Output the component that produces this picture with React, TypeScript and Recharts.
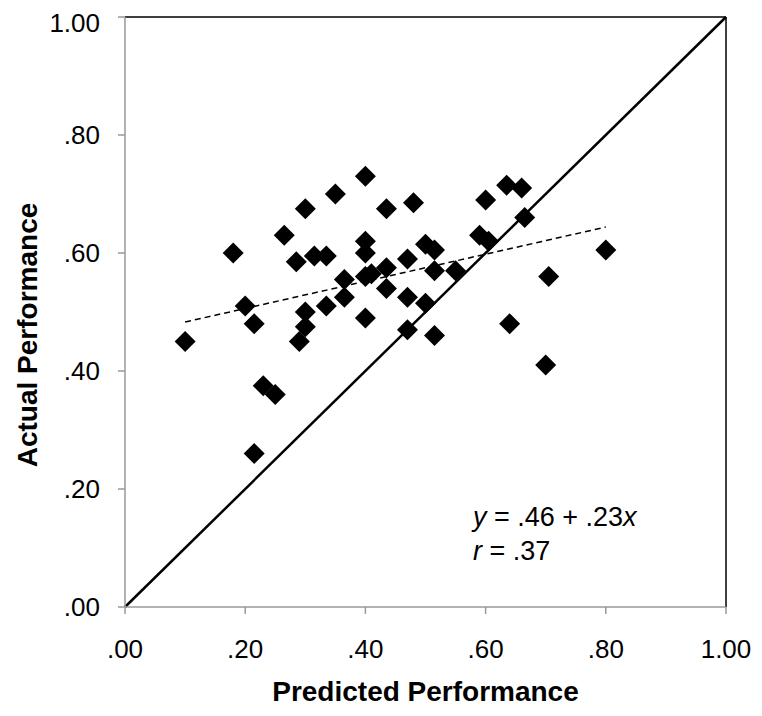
import { ScatterChart, Scatter, XAxis, YAxis, ReferenceLine } from 'recharts';

const predicted = [
  0.10, 0.18, 0.20, 0.215, 0.215, 0.23, 0.25, 0.265, 0.285, 0.29,
  0.30, 0.30, 0.30, 0.315, 0.335, 0.335, 0.35, 0.365, 0.365, 0.40,
  0.40, 0.40, 0.40, 0.41, 0.40, 0.435, 0.435, 0.435, 0.48, 0.47,
  0.47, 0.47, 0.50, 0.515, 0.515, 0.50, 0.515, 0.55, 0.59, 0.605,
  0.60, 0.635, 0.66, 0.665, 0.64, 0.705, 0.70, 0.80,
];
const actual = [
  0.45, 0.60, 0.51, 0.48, 0.26, 0.375, 0.36, 0.63, 0.585, 0.45,
  0.675, 0.50, 0.475, 0.595, 0.595, 0.51, 0.70, 0.555, 0.525, 0.73,
  0.62, 0.60, 0.56, 0.565, 0.49, 0.675, 0.575, 0.54, 0.685, 0.59,
  0.525, 0.47, 0.615, 0.605, 0.57, 0.515, 0.46, 0.57, 0.63, 0.62,
  0.69, 0.715, 0.71, 0.66, 0.48, 0.56, 0.41, 0.605,
];
const axisTicks = [0, 0.2, 0.4, 0.6, 0.8, 1];

// fitted line shown on the chart: y = .46 + .23x, drawn over x = .10 .. .80
const intercept = 0.46;
const slope = 0.23;
const fitRange = [0.1, 0.8];

const points = predicted.map((x, i) => ({ x, y: actual[i] }));
const fitSegment = fitRange.map((x) => ({ x, y: intercept + slope * x }));

const font = '"Liberation Sans", Arial, Helvetica, sans-serif';
const fmt = (v: number) => (v >= 1 ? v.toFixed(2) : v.toFixed(2).replace(/^0/, ''));

const Diamond = (props: any) => {
  const { cx, cy } = props;
  const r = 10.5;
  return <polygon points={`${cx},${cy - r} ${cx + r},${cy} ${cx},${cy + r} ${cx - r},${cy}`} fill="#000" />;
};

export default function App() {
  return (
    <div style={{ position: 'relative', width: 746, height: 700, fontFamily: font }}>
      <ScatterChart width={746} height={700} margin={{ top: 9, right: 28, left: 0, bottom: 0 }}>
        <XAxis
          type="number"
          dataKey="x"
          domain={[0, 1]}
          ticks={axisTicks}
          tickFormatter={fmt}
          height={101}
          tickSize={7}
          tickMargin={26}
          axisLine={{ stroke: '#999', strokeWidth: 1.5 }}
          tickLine={{ stroke: '#999', strokeWidth: 1.5 }}
          tick={{ fill: '#000', fontSize: 26, fontFamily: font }}
          label={({ viewBox }: any) => (
            <text
              x={viewBox.x + viewBox.width / 2}
              y={viewBox.y + 94}
              textAnchor="middle"
              fontSize={28}
              fontWeight="bold"
              fontFamily={font}
              fill="#000"
            >
              Predicted Performance
            </text>
          )}
        />
        <YAxis
          type="number"
          dataKey="y"
          domain={[0, 1]}
          ticks={axisTicks}
          tickFormatter={fmt}
          width={117}
          tickSize={7}
          tickMargin={18}
          axisLine={{ stroke: '#999', strokeWidth: 1.5 }}
          tickLine={{ stroke: '#999', strokeWidth: 1.5 }}
          tick={{ fill: '#000', fontSize: 26, fontFamily: font }}
          label={({ viewBox }: any) => {
            const cx = 29;
            const cy = viewBox.y + viewBox.height / 2 + 23;
            return (
              <text
                x={cx}
                y={cy}
                transform={`rotate(-90, ${cx}, ${cy})`}
                textAnchor="middle"
                fontSize={28}
                fontWeight="bold"
                fontFamily={font}
                fill="#000"
              >
                Actual Performance
              </text>
            );
          }}
        />
        <ReferenceLine y={1} stroke="#000" strokeWidth={1.5} />
        <ReferenceLine x={1} stroke="#000" strokeWidth={1.5} />
        <ReferenceLine segment={[{ x: 0, y: 0 }, { x: 1, y: 1 }]} stroke="#000" strokeWidth={2.5} />
        <ReferenceLine
          segment={[fitSegment[0], fitSegment[1]]}
          stroke="#000"
          strokeWidth={1.5}
          strokeDasharray="6 4"
        />
        <Scatter data={points} shape={<Diamond />} isAnimationActive={false} />
      </ScatterChart>
      <svg width={746} height={700} style={{ position: 'absolute', left: 0, top: 0, pointerEvents: 'none' }}>
        <text x={465} y={518} fontSize={27} fontFamily={font} fill="#000">
          <tspan fontStyle="italic">y</tspan> = .46 + .23<tspan fontStyle="italic">x</tspan>
        </text>
        <text x={465} y={552} fontSize={27} fontFamily={font} fill="#000">
          <tspan fontStyle="italic">r</tspan> = .37
        </text>
      </svg>
    </div>
  );
}
